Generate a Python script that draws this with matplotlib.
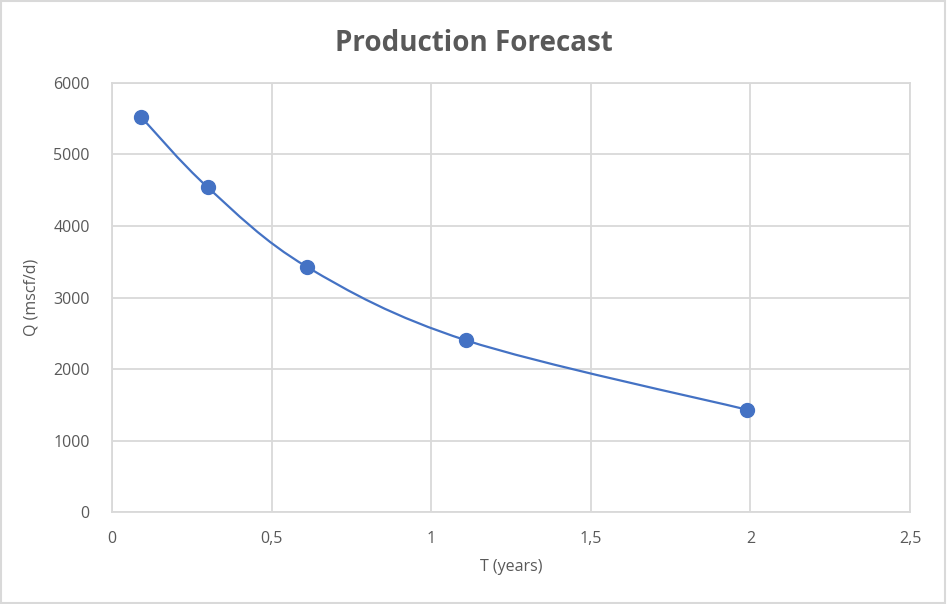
"""Production forecast chart (Excel style smooth line with markers)."""

import matplotlib
matplotlib.use("Agg")
import matplotlib.pyplot as plt
import numpy as np
from matplotlib.path import Path
from matplotlib.patches import PathPatch, Rectangle

t_years = [0.09, 0.30, 0.61, 1.11, 1.99]
q_mscfd = [5530, 4540, 3430, 2400, 1430]

x_ticks = [0, 0.5, 1, 1.5, 2, 2.5]
x_tick_labels = ["0", "0,5", "1", "1,5", "2", "2,5"]
y_ticks = [0, 1000, 2000, 3000, 4000, 5000, 6000]

BLUE = "#4472C4"
GRID = "#D9D9D9"
TEXT = "#595959"

plt.rcParams["font.family"] = ["Open Sans", "DejaVu Sans"]


def smooth_path(xs, ys):
    # Excel-like smoothing: cubic Bezier with control points at 1/6 of neighbour span
    p = np.column_stack([xs, ys]).astype(float)
    ext = np.vstack([p[0], p, p[-1]])
    verts = [p[0]]
    codes = [Path.MOVETO]
    for i in range(len(p) - 1):
        p0, p1, p2, p3 = ext[i], ext[i + 1], ext[i + 2], ext[i + 3]
        c1 = p1 + (p2 - p0) / 6
        c2 = p2 - (p3 - p1) / 6
        verts += [c1, c2, p2]
        codes += [Path.CURVE4] * 3
    return Path(verts, codes)


fig = plt.figure(figsize=(9.47, 6.04), dpi=100)
ax = fig.add_axes([0.1183, 0.1523, 0.8427, 0.7103])

ax.add_patch(PathPatch(smooth_path(t_years, q_mscfd), facecolor="none",
                       edgecolor=BLUE, linewidth=1.6, zorder=3))
ax.plot(t_years, q_mscfd, linestyle="none", marker="o", markersize=10,
        color=BLUE, markeredgecolor=BLUE, zorder=4)

ax.set_xlim(0, 2.5)
ax.set_ylim(0, 6000)
ax.set_xticks(x_ticks)
ax.set_xticklabels(x_tick_labels)
ax.set_yticks(y_ticks)
ax.grid(True, color=GRID, linewidth=1.3)
ax.set_axisbelow(True)
for s in ax.spines.values():
    s.set_color(GRID)
    s.set_linewidth(1.3)
ax.tick_params(length=0, colors=TEXT, labelsize=11.5, pad=14)
ax.tick_params(axis="y", pad=16)

ax.set_xlabel("T (years)", color=TEXT, fontsize=11.5, labelpad=8)
ax.set_ylabel("Q (mscf/d)", color=TEXT, fontsize=11.5, labelpad=10)
fig.suptitle("Production Forecast", x=0.5, y=0.952, fontsize=20,
             fontweight="bold", color=TEXT)

fig.patches.append(Rectangle((0.001, 0.001), 0.997, 0.997, transform=fig.transFigure,
                             fill=False, edgecolor=GRID, linewidth=1.5))

fig.savefig("out.png", dpi=100)
